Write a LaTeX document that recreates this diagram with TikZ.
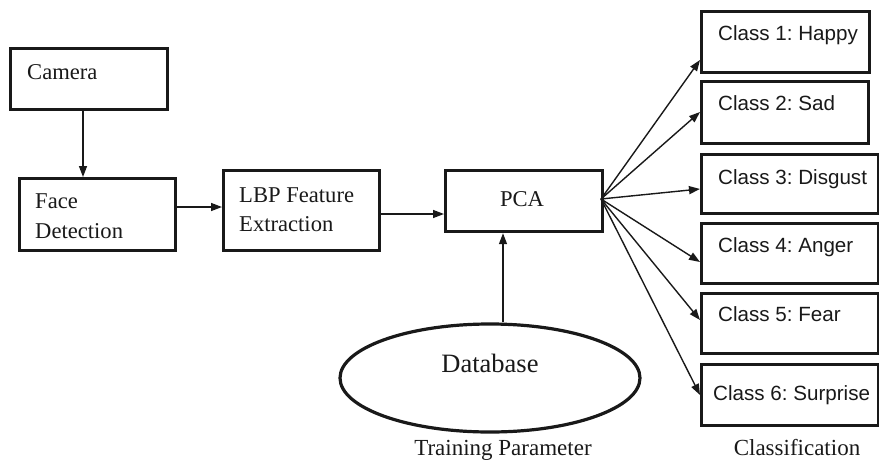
\documentclass[tikz,border=0pt]{standalone}
\usepackage{fontspec}
\setmainfont{Liberation Serif}
\setsansfont{Liberation Sans}
\usetikzlibrary{arrows.meta,shapes.geometric}
\frenchspacing
\tikzset{
  box/.style={draw=black!90, line width=3.2pt, inner sep=0pt, anchor=north west},
  arr/.style={draw=black!90, line width=1.4pt, -{Triangle[length=11pt,width=8pt]}},
  serif/.style={font=\fontsize{22.6}{26}\selectfont\rmfamily, text=black!90, inner sep=0pt, anchor=base west},
  sans/.style={font=\fontsize{20.6}{24}\selectfont\sffamily, text=black!90, inner sep=0pt, anchor=base west},
  caption/.style={font=\fontsize{23}{26}\selectfont\rmfamily, text=black!90, inner sep=0pt, anchor=base},
}
\begin{document}
\begin{tikzpicture}[x=1pt,y=-1pt]
\useasboundingbox (0,0) rectangle (879,461);
% boxes
\node[box, minimum width=157pt, minimum height=61pt] (cam) at (9,47) {};
\node[box, minimum width=156pt, minimum height=72pt] (face) at (18,177) {};
\node[box, minimum width=156pt, minimum height=80pt] (lbp) at (222,169) {};
\node[box, minimum width=157pt, minimum height=61pt] (pca) at (444,169) {};
\node[box, minimum width=168pt, minimum height=61pt] (c1) at (700,10) {};
\node[box, minimum width=167pt, minimum height=62pt] (c2) at (700,80) {};
\node[box, minimum width=177pt, minimum height=59pt] (c3) at (700,153) {};
\node[box, minimum width=177pt, minimum height=60pt] (c4) at (700,222) {};
\node[box, minimum width=177pt, minimum height=60pt] (c5) at (700,292) {};
\node[box, minimum width=177pt, minimum height=61pt] (c6) at (700,363) {};
\node[draw=black!90, line width=3.2pt, ellipse, minimum width=300pt, minimum height=108pt, inner sep=0pt] (db) at (490,378) {};
% texts
\node[serif] (tcam) at (27,79) {Camera};
\node[serif] (tface1) at (35,208) {Face};
\node[serif] (tface2) at (35,238) {Detection};
\node[serif] (tlbp1) at (239,202) {LBP Feature};
\node[serif] (tlbp2) at (239,231) {Extraction};
\node[serif, anchor=base] (tpca) at (522,206) {PCA};
\node[serif, anchor=base, font=\fontsize{26.5}{30}\selectfont\rmfamily] (tdb) at (490,372) {Database};
\node[caption] (ttrain) at (503,455) {Training Parameter};
\node[caption] (tclass) at (797,455) {Classification};
\node[sans] (t1) at (718,40) {Class 1: Happy};
\node[sans] (t2) at (718,110) {Class 2: Sad};
\node[sans] (t3) at (718,184) {Class 3: Disgust};
\node[sans] (t4) at (718,252) {Class 4: Anger};
\node[sans] (t5) at (718,321) {Class 5: Fear};
\node[sans] (t6) at (713,400) {Class 6: Surprise};
% connectors
\draw[arr] (cam.south -| 83,0) -- (face.north -| 83,0);
\draw[arr] (face.east |- 0,207) -- (lbp.west |- 0,207);
\draw[arr] (lbp.east |- 0,214) -- (pca.west |- 0,214);
\draw[arr] (db.north -| 503,0) -- (pca.south -| 503,0);
\coordinate (o) at (601,199);
\draw[arr] (o) -- (c1.west |- 0,60);
\draw[arr] (o) -- (c2.west |- 0,112);
\draw[arr] (o) -- (c3.west |- 0,189);
\draw[arr] (o) -- (c4.west |- 0,262);
\draw[arr] (o) -- (c5.west |- 0,320);
\draw[arr] (o) -- (c6.west |- 0,395);
\end{tikzpicture}
\end{document}
